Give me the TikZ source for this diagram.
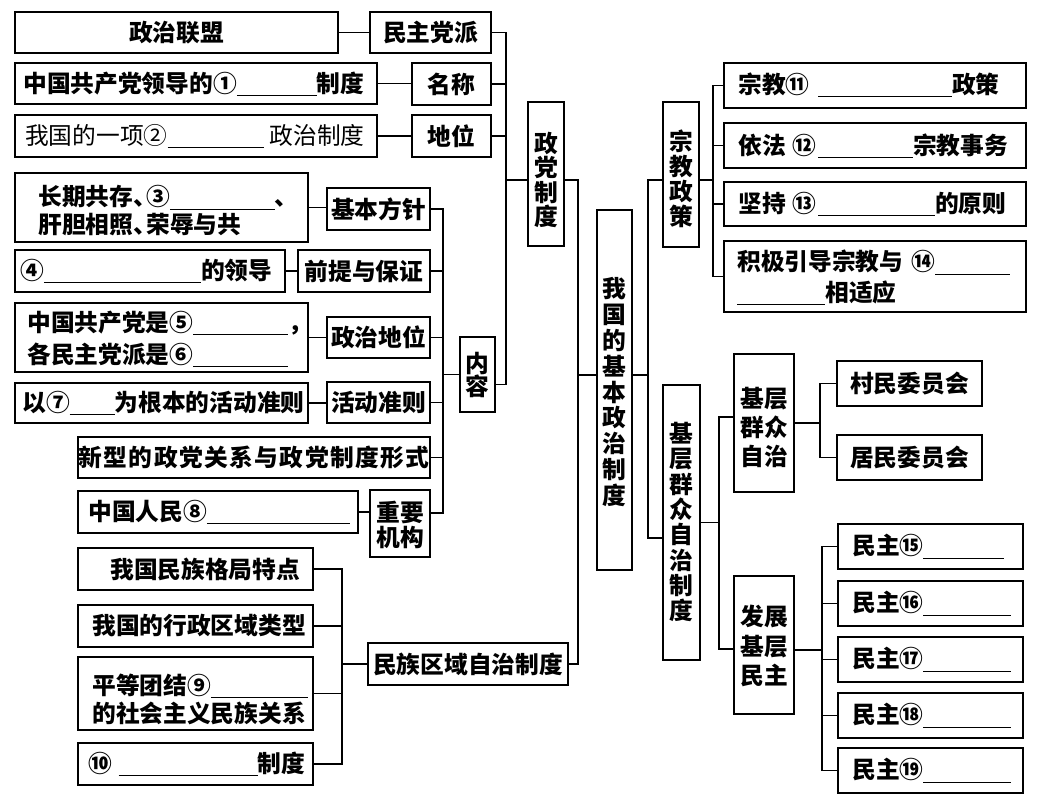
\documentclass[tikz,border=0pt]{standalone}
\usepackage{fontspec}
\setmainfont{Noto Sans CJK SC}
\newcommand\bl[1]{\rule[-3pt]{\dimexpr #1pt*3/4\relax}{0.7pt}}
\newcommand\hw[1]{\makebox[0.55em][l]{#1}}
\newcommand\bx[6]{\node[box, minimum width={(#4-#2)*0.75pt}, minimum height={(#5-#3)*0.75pt}] (#1) at ({(#2+#4)/2},{(#3+#5)/2}) {#6};}
\newcommand\vf[1]{\bfseries\fontsize{17.8pt}{#1}\selectfont}
\begin{document}
\begin{tikzpicture}[x=0.75pt,y=-0.75pt,
  font=\bfseries\fontsize{17.8pt}{21pt}\selectfont,
  box/.style={draw, line width=0.9pt, inner sep=0pt, align=center},
  txt/.style={inner sep=0pt, anchor=west, align=left},
  vt/.style={inner sep=0pt, align=center},
  conn/.style={line width=0.9pt}]
\fill[white] (0,0) rectangle (1056,800);
\useasboundingbox (0,0) rectangle (1056,800);

% ---------- left top ----------
\bx{zzlm}{15}{12}{338}{53}{政治联盟}
\bx{mzdp}{370}{12}{491}{53}{民主党派}
\bx{b1}{15}{63}{377}{104}{}
\bx{mc}{412}{63}{491}{105}{名称}
\bx{b2}{15}{115}{377}{157}{}
\bx{dw}{412}{115}{491}{157}{地位}
\bx{zd}{528}{102}{564}{246}{}
\node[txt] at (23,84) {中国共产党领导的①\bl{80}制度};
\node[txt, font=\mdseries\fontsize{17.8pt}{21pt}\selectfont] at (25,136) {我国的一项②\bl{96}\hspace{4.5pt}政治制度};
\node[vt, font=\vf{18.3pt}] at (546,180) {政\\党\\制\\度};

% ---------- left middle ----------
\bx{b3}{15}{173}{308}{242}{}
\bx{jbfz}{327}{188}{430}{230}{基本方针}
\bx{b4}{15}{250}{285}{292}{}
\bx{qt}{298}{250}{430}{292}{前提与保证}
\bx{b5}{15}{303}{308}{372}{}
\bx{zzdw}{327}{317}{430}{358}{政治地位}
\bx{b7}{15}{383}{308}{423}{}
\bx{hdzz}{327}{382}{430}{423}{活动准则}
\bx{xx}{78}{437}{430}{478}{{\addfontfeature{LetterSpace=6}新型的政党关系与政党制度形式}}
\bx{b8}{78}{491}{358}{533}{}
\bx{zyjg}{370}{490}{430}{557}{}
\bx{nr}{460}{337}{495}{412}{}
\node[txt] at (38,211) {长期共存\hw{、}③\bl{105}、\\肝胆相照\hw{、}荣辱与共};
\node[txt] at (20,271) {④\bl{157}的领导};
\node[txt, font=\vf{24pt}] at (27,339) {中国共产党是⑤\bl{95}，\\各民主党派是⑥\bl{95}};
\node[txt] at (22,403) {以⑦\bl{45}为根本的活动准则};
\node[txt] at (88,512) {中国人民⑧\bl{143}};
\node[vt, font=\vf{19pt}] at (400,525) {重要\\机构};
\node[vt, font=\vf{17.3pt}] at (477.5,375) {内\\容};

% ---------- left bottom ----------
\bx{c1}{78}{548}{313}{590}{}
\bx{c2}{78}{605}{313}{647}{}
\bx{c3}{78}{657}{313}{730}{}
\bx{c4}{78}{743}{313}{785}{}
\bx{mzqy}{368}{643}{568}{685}{民族区域自治制度}
\node[txt] at (110,569) {我国民族格局特点};
\node[txt] at (92,626) {我国的行政区域类型};
\node[txt] at (92,699) {平等团结⑨\bl{97}\\的社会主义民族关系};
\node[txt] at (88,764) {⑩\hspace{5pt}\bl{139}制度};

% ---------- centre ----------
\bx{root}{597}{210}{632}{570}{}
\node[vt, font=\vf{19.4pt}] at (614.5,392) {我\\国\\的\\基\\本\\政\\治\\制\\度};

% ---------- right top ----------
\bx{zjzc}{663}{102}{699}{247}{}
\node[vt, font=\vf{18.75pt}] at (681,178.5) {宗\\教\\政\\策};
\bx{r1}{724}{63}{1026}{108}{}
\bx{r2}{724}{123}{1026}{168}{}
\bx{r3}{724}{182}{1026}{226}{}
\bx{r4}{724}{241}{1026}{312}{}
\node[txt] at (738,85) {宗教⑪\hspace{6.5pt}\bl{134}政策};
\node[txt] at (738,146) {依法\hspace{5pt}⑫\hspace{1.5pt}\bl{95}宗教事务};
\node[txt] at (738,204) {坚持\hspace{5pt}⑬\hspace{1.5pt}\bl{117}的原则};
\node[txt, font=\vf{23pt}] at (737,277.5) {积极引导宗教与\hspace{6pt}⑭\bl{75}\\\bl{88}相适应};

% ---------- right bottom ----------
\bx{jczz}{663}{385}{700}{660}{}
\node[vt, font=\vf{19pt}] at (681.5,522) {基\\层\\群\\众\\自\\治\\制\\度};
\bx{jcqz}{734}{354}{794}{492}{}
\node[vt, font=\vf{22pt}] at (764,427.5) {基层\\群众\\自治};
\bx{cm}{837}{361}{982}{406}{村民委员会}
\bx{jm}{837}{435}{982}{480}{居民委员会}
\bx{fz}{734}{576}{794}{714}{}
\node[vt, font=\vf{22pt}] at (764,646) {发展\\基层\\民主};
\bx{m15}{838}{524}{1023}{569}{}
\bx{m16}{838}{581}{1023}{626}{}
\bx{m17}{838}{637}{1023}{682}{}
\bx{m18}{838}{693}{1023}{738}{}
\bx{m19}{838}{748}{1023}{793}{}
\node[txt] at (852,546.5) {民主⑮\bl{81}};
\node[txt] at (852,603.5) {民主⑯\bl{88}};
\node[txt] at (852,659.5) {民主⑰\bl{88}};
\node[txt] at (852,715.5) {民主⑱\bl{88}};
\node[txt] at (852,770.5) {民主⑲\bl{88}};

% ---------- connector coordinates ----------
\coordinate (v1) at (506,0);
\coordinate (v2) at (578,0);
\coordinate (v3) at (648,0);
\coordinate (v4) at (713,0);
\coordinate (v5) at (719,0);
\coordinate (v6) at (820,0);
\coordinate (v7) at (822,0);
\coordinate (v8) at (443,0);
\coordinate (v9) at (342,0);
\coordinate (nrR) at ([yshift=-7.5pt]nr.east);
\coordinate (zdL) at ([yshift=-4.5pt]zd.west);
\coordinate (zdR) at ([yshift=-4.5pt]zd.east);
\coordinate (rootL) at ([yshift=11.25pt]root.west);
\coordinate (rootR) at ([yshift=11.25pt]root.east);
\coordinate (zjL) at ([yshift=-4.1pt]zjzc.west);
\coordinate (zjR) at ([yshift=-4.1pt]zjzc.east);
\coordinate (jcL) at ([yshift=-11.6pt]jczz.west);
\coordinate (jqL) at ([yshift=4.5pt]jcqz.west);
\coordinate (fzL) at ([yshift=-3pt]fz.west);
\coordinate (fzR) at ([yshift=-3.75pt]fz.east);
\coordinate (zyR) at ([yshift=7.9pt]zyjg.east);

% ---------- connectors ----------
\begin{scope}[conn]
\draw (zzlm.east) -- (mzdp.west);
\draw (b1.east) -- (b1.east -| mc.west);
\draw (b2.east) -- (b2.east -| dw.west);
\draw (mzdp.east) -- (mzdp.east -| v1) -- (v1 |- nrR) -- (nrR);
\draw (mc.east) -- (mc.east -| v1);
\draw (dw.east) -- (dw.east -| v1);
\draw (v1 |- zdL) -- (zdL);
\draw (zdR) -- (zdR -| v2) -- (v2 |- mzqy.east) -- (mzqy.east);
\draw (v2 |- rootL) -- (rootL);
\draw (rootR) -- (rootR -| v3);
\draw (zjL) -- (zjL -| v3) -- (v3 |- jcL) -- (jcL);
\draw (zjR) -- (zjR -| v4);
\draw (r1.west) -- (r1.west -| v4) -- (v4 |- r4.west) -- (r4.west);
\draw (r2.west) -- (r2.west -| v4);
\draw (r3.west) -- (r3.west -| v4);
\draw (jczz.east) -- (jczz.east -| v5);
\draw (jqL) -- (jqL -| v5) -- (v5 |- fzL) -- (fzL);
\draw (jcqz.east) -- (jcqz.east -| v6);
\draw (cm.west) -- (cm.west -| v6) -- (v6 |- jm.west) -- (jm.west);
\draw (fzR) -- (fzR -| v7);
\draw (m15.west) -- (m15.west -| v7) -- (v7 |- m19.west) -- (m19.west);
\draw (m16.west) -- (m16.west -| v7);
\draw (m17.west) -- (m17.west -| v7);
\draw (m18.west) -- (m18.west -| v7);
\draw (nr.west) -- (nr.west -| v8);
\draw (jbfz.east) -- (jbfz.east -| v8) -- (v8 |- zyR) -- (zyR);
\draw (qt.east) -- (qt.east -| v8);
\draw (zzdw.east) -- (zzdw.east -| v8);
\draw (hdzz.east) -- (hdzz.east -| v8);
\draw (xx.east) -- (xx.east -| v8);
\draw (b3.east) -- (b3.east -| jbfz.west);
\draw (b4.east) -- (b4.east -| qt.west);
\draw (b5.east) -- (b5.east -| zzdw.west);
\draw (b7.east) -- (b7.east -| hdzz.west);
\draw (b8.east) -- (b8.east -| zyjg.west);
\draw (c1.east) -- (c1.east -| v9) -- (v9 |- c4.east) -- (c4.east);
\draw (c2.east) -- (c2.east -| v9);
\draw (c3.east) -- (c3.east -| v9);
\draw (v9 |- mzqy.west) -- (mzqy.west);
\end{scope}
\end{tikzpicture}
\end{document}
